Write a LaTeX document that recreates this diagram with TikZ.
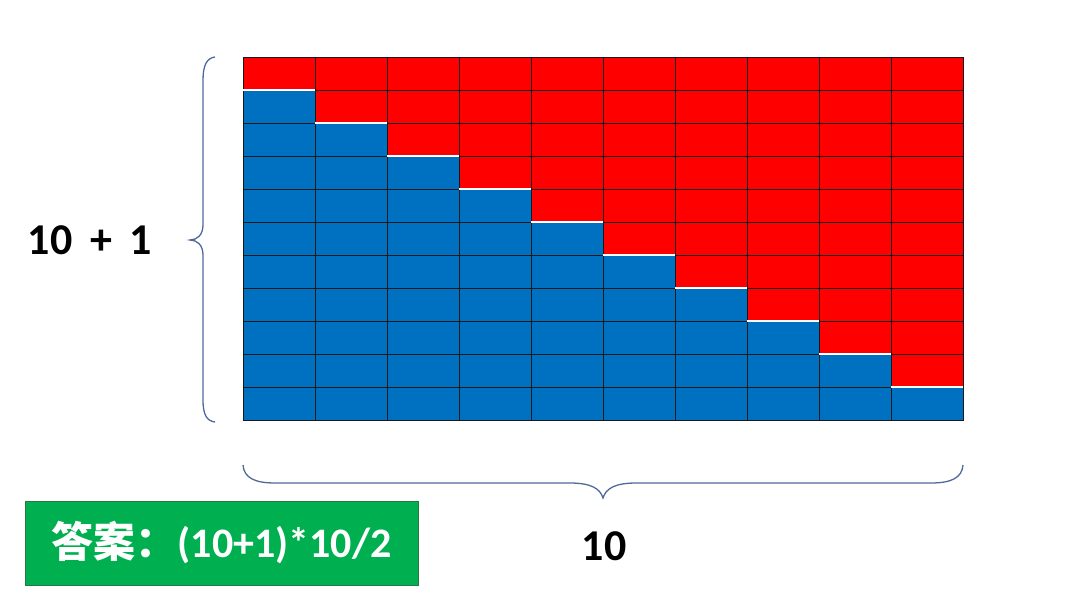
\documentclass[tikz,border=0pt]{standalone}
\usepackage{fontspec}
\setmainfont{Carlito}
\newfontfamily\cjk{Noto Sans CJK SC}
\usetikzlibrary{positioning}
\definecolor{cellred}{RGB}{255,0,0}
\definecolor{cellblue}{RGB}{0,112,192}
\definecolor{bracecol}{RGB}{80,105,155}
\definecolor{ansgreen}{RGB}{0,176,80}
\definecolor{ansedge}{RGB}{40,120,70}

\begin{document}
\begin{tikzpicture}[
  x=1pt, y=-1pt,
  cell/.style={draw=black!90, line width=1pt},
  brace/.style={draw=bracecol, line width=1.3pt},
  lbl/.style={font=\fontsize{44}{50}\selectfont\bfseries, text=black, inner sep=0pt},
  ansbox/.style={draw=ansedge, line width=1pt, fill=ansgreen, minimum width=393pt, minimum height=84pt, inner sep=0pt}
]
\useasboundingbox (0,0) rectangle (1080,608);

% staircase grid: 10 columns, 11 rows
\foreach \c in {0,...,9}{
  \foreach \r in {0,...,10}{
    \pgfmathsetmacro{\xa}{243+72*\c}
    \pgfmathsetmacro{\ya}{57+33*\r}
    \ifnum\r>\c
      \filldraw[cell, fill=cellblue] (\xa,\ya) rectangle ++(72,33);
    \else
      \filldraw[cell, fill=cellred] (\xa,\ya) rectangle ++(72,33);
    \fi
  }
}
% white step edges
\foreach \c in {0,...,9}{
  \draw[white, line width=1.6pt] (243+72*\c,90+33*\c) -- ++(72,0);
}

% braces
\draw[brace] (215,57) .. controls (207,58) and (203,65) .. (203,80) -- (203,225)
  .. controls (203,235) and (197,240) .. (190,240)
  .. controls (197,240) and (203,245) .. (203,255) -- (203,400)
  .. controls (203,415) and (207,421) .. (215,422);
\draw[brace] (243,465) .. controls (244,478) and (255,483) .. (275,483) -- (570,483)
  .. controls (590,483) and (600,488) .. (603,498)
  .. controls (606,488) and (616,483) .. (636,483) -- (931,483)
  .. controls (951,483) and (962,478) .. (963,465);

\node[lbl] (height) at (90,240) {10\hspace{0.4em}+\hspace{0.4em}1};
\node[lbl] (width) at (604,546) {10};
\node[ansbox] (answer) at (221.5,543) {};
\node[lbl, text=white, font=\fontsize{42}{48}\selectfont\bfseries] (anstext) at (answer.center) {{\cjk 答案：}(10+1)*10/2};
\end{tikzpicture}
\end{document}
